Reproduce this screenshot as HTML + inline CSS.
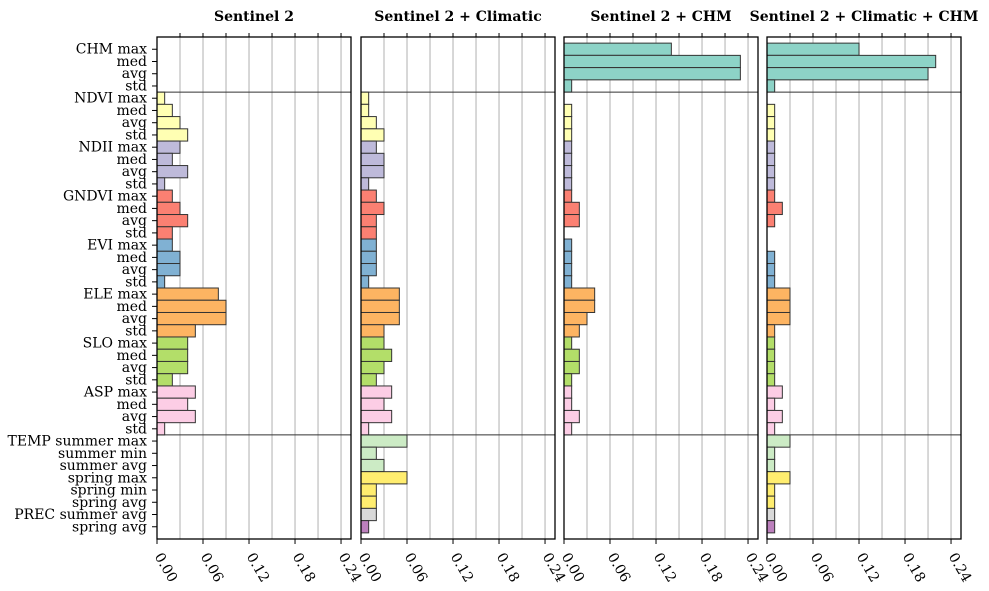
<!DOCTYPE html>
<html><head><meta charset="utf-8"><style>
html,body{margin:0;padding:0;background:#fff;}
svg{display:block;font-family:"DejaVu Serif","Liberation Serif",serif;}
</style></head><body>
<svg id="chart" width="989" height="591" viewBox="0 0 989 591" xmlns="http://www.w3.org/2000/svg"></svg>
<script>
const featureLabels = ["CHM max","med","avg","std","NDVI max","med","avg","std","NDII max","med","avg","std","GNDVI max","med","avg","std","EVI max","med","avg","std","ELE max","med","avg","std","SLO max","med","avg","std","ASP max","med","avg","std","TEMP summer max","summer min","summer avg","spring max","spring min","spring avg","PREC summer avg","spring avg"];
const groupColors = ["#8dd3c7","#8dd3c7","#8dd3c7","#8dd3c7","#ffffb3","#ffffb3","#ffffb3","#ffffb3","#bebada","#bebada","#bebada","#bebada","#fb8072","#fb8072","#fb8072","#fb8072","#80b1d3","#80b1d3","#80b1d3","#80b1d3","#fdb462","#fdb462","#fdb462","#fdb462","#b3de69","#b3de69","#b3de69","#b3de69","#fccde5","#fccde5","#fccde5","#fccde5","#ccebc5","#ccebc5","#ccebc5","#ffed6f","#ffed6f","#ffed6f","#d9d9d9","#bc80bd"];
const panelTitles = ["Sentinel 2","Sentinel 2 + Climatic","Sentinel 2 + CHM","Sentinel 2 + Climatic + CHM"];
const valuesS2 = [0,0,0,0, 0.01,0.02,0.03,0.04, 0.03,0.02,0.04,0.01, 0.02,0.03,0.04,0.02, 0.02,0.03,0.03,0.01, 0.08,0.09,0.09,0.05, 0.04,0.04,0.04,0.02, 0.05,0.04,0.05,0.01, 0,0,0,0,0,0, 0,0];
const valuesS2Clim = [0,0,0,0, 0.01,0.01,0.02,0.03, 0.02,0.03,0.03,0.01, 0.02,0.03,0.02,0.02, 0.02,0.02,0.02,0.01, 0.05,0.05,0.05,0.03, 0.03,0.04,0.03,0.02, 0.04,0.03,0.04,0.01, 0.06,0.02,0.03,0.06,0.02,0.02, 0.02,0.01];
const valuesS2Chm = [0.14,0.23,0.23,0.01, 0,0.01,0.01,0.01, 0.01,0.01,0.01,0.01, 0.01,0.02,0.02,0, 0.01,0.01,0.01,0.01, 0.04,0.04,0.03,0.02, 0.01,0.02,0.02,0.01, 0.01,0.01,0.02,0.01, 0,0,0,0,0,0, 0,0];
const valuesAll = [0.12,0.22,0.21,0.01, 0,0.01,0.01,0.01, 0.01,0.01,0.01,0.01, 0.01,0.02,0.01,0, 0,0.01,0.01,0.01, 0.03,0.03,0.03,0.01, 0.01,0.01,0.01,0.01, 0.02,0.01,0.02,0.01, 0.03,0.01,0.01,0.03,0.01,0.01, 0.01,0.01];
const xTickValues = [0,0.06,0.12,0.18,0.24];
const xTickLabels = ["0.00","0.06","0.12","0.18","0.24"];
const gridValues = [0.03,0.06,0.09,0.12,0.15,0.18,0.21,0.24];
const separatorRows = [3.5,31.5];

const panelSeries = [valuesS2,valuesS2Clim,valuesS2Chm,valuesAll];
const svgEl = document.getElementById('chart');
const NS = "http://www.w3.org/2000/svg";
const panelX = [157,361,564,767], panelW = 194, plotTop = 37, plotBottom = 539;
const xMax = 0.253, yMin = -1, yMax = 40;
function mk(tag, attrs){const e=document.createElementNS(NS,tag);for(const k in attrs)e.setAttribute(k,attrs[k]);svgEl.appendChild(e);return e;}
function yScale(v){return plotTop + (v - yMin)/(yMax - yMin)*(plotBottom-plotTop);}
function xScale(p,v){return panelX[p] + v/xMax*panelW;}

panelSeries.forEach((vals,p)=>{
  const x0 = panelX[p];
  const t = mk('text',{x:x0+panelW/2,y:21,'text-anchor':'middle','font-size':'14','font-weight':'bold',fill:'#000'});
  t.textContent = panelTitles[p];
  
  
  gridValues.forEach(g=>{
    const gl = mk('line',{x1:xScale(p,g),x2:xScale(p,g),y1:plotTop,y2:plotBottom,stroke:'#b0b0b0','stroke-width':1});
    
    
    const tt = mk('line',{x1:xScale(p,g),x2:xScale(p,g),y1:plotTop-4,y2:plotTop,stroke:'#000','stroke-width':1});
    
    
  });
  vals.forEach((v,i)=>{
    if(v<=0) return;
    const r = mk('rect',{x:x0,y:yScale(i-0.5),width:xScale(p,v)-x0,height:yScale(i+0.5)-yScale(i-0.5),fill:groupColors[i],stroke:'#333','stroke-width':1});
    
    
  });
  separatorRows.forEach(s=>{
    const sl = mk('line',{x1:x0,x2:x0+panelW,y1:yScale(s),y2:yScale(s),stroke:'#333','stroke-width':1});
    
    
  });
  const fr = mk('rect',{x:x0,y:plotTop,width:panelW,height:plotBottom-plotTop,fill:'none',stroke:'#000','stroke-width':1.3});
  
  
  xTickValues.forEach((v,k)=>{
    const x = xScale(p,v);
    const tk = mk('line',{x1:x,x2:x,y1:plotBottom,y2:plotBottom+5,stroke:'#000','stroke-width':1});
    
    
    const ly = plotBottom+10;
    const lb = mk('text',{x:x-3,y:ly,'font-size':'14',fill:'#000',transform:'translate(7 5) rotate(60 '+x+' '+ly+')','dominant-baseline':'hanging'});
    lb.textContent = xTickLabels[k];
    
    
  });
});
featureLabels.forEach((l,i)=>{
  const y = yScale(i);
  const tk = mk('line',{x1:panelX[0]-5,x2:panelX[0],y1:y,y2:y,stroke:'#000','stroke-width':1});
  
  
  const t = mk('text',{x:panelX[0]-10,y:y+4.5,'text-anchor':'end','font-size':'14',fill:'#000'});
  t.textContent = l;
  
  
});
</script>
</body></html>
